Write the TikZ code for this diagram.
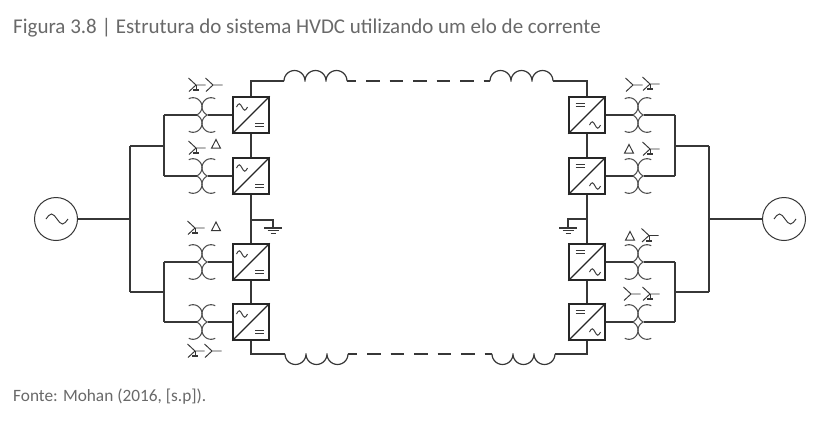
\documentclass[tikz,border=0pt]{standalone}
\usepackage{fontspec}
\setmainfont{Carlito}
\usetikzlibrary{calc}
\definecolor{ln}{RGB}{55,55,55}
\definecolor{lnl}{RGB}{80,80,80}
\definecolor{txt}{RGB}{105,105,105}
\newcommand{\tld}[4]{\draw[sym] (#1-#3,#2) sin (#1-#3/2,#2-#4) cos (#1,#2) sin (#1+#3/2,#2+#4) cos (#1+#3,#2);}
\newcommand{\eqs}[2]{\draw[sym, line width=1.1pt] (#1-4.5,#2-1.7) -- (#1+4.5,#2-1.7) (#1-4.5,#2+1.7) -- (#1+4.5,#2+1.7);}
\newcommand{\ystar}[2]{\draw[sym] (#1-7.5,#2-7) -- (#1,#2) -- (#1-7,#2+6.5) (#1,#2) -- (#1+9.5,#2);}
\newcommand{\gstar}[2]{\ystar{#1}{#2}\draw[sym] (#1,#2) -- (#1,#2+4); \fill[ln] (#1-3,#2+4) rectangle (#1+3,#2+6);}
\newcommand{\dlt}[2]{\draw[sym, line join=miter] (#1-4.5,#2+4.2) -- (#1+4.5,#2+4.2) -- (#1,#2-4.5) -- cycle;}
\newcommand{\xfmr}[3]{%
 \draw[arcs] plot[smooth, domain=-67:118, samples=25] ({#1-9+9*cos(\x)},{#2-8.29-9*sin(\x)});
 \draw[arcs] plot[smooth, domain=67:-118, samples=25] ({#1-9+9*cos(\x)},{#2+8.29-9*sin(\x)});
 \draw[arcs] plot[smooth, domain=62:247, samples=25] ({#1+9+9*cos(\x)},{#2-8.29-9*sin(\x)});
 \draw[arcs] plot[smooth, domain=113:298, samples=25] ({#1+9+9*cos(\x)},{#2+8.29-9*sin(\x)});
 \coordinate (#3-w) at (#1-5.5,#2);
 \coordinate (#3-e) at (#1+5.5,#2);}
\newcommand{\indup}[2]{%
 \draw[wire] plot[smooth, domain=180:0, samples=15] ({#1+10.5+10.5*cos(\x)},{#2-10.5*sin(\x)})
   -- plot[smooth, domain=180:0, samples=15] ({#1+31.5+10.5*cos(\x)},{#2-10.5*sin(\x)})
   -- plot[smooth, domain=180:0, samples=15] ({#1+52.5+10.5*cos(\x)},{#2-10.5*sin(\x)});}
\newcommand{\inddn}[2]{%
 \draw[wire] plot[smooth, domain=180:360, samples=15] ({#1+10.5+10.5*cos(\x)},{#2-10.5*sin(\x)})
   -- plot[smooth, domain=180:360, samples=15] ({#1+31.5+10.5*cos(\x)},{#2-10.5*sin(\x)})
   -- plot[smooth, domain=180:360, samples=15] ({#1+52.5+10.5*cos(\x)},{#2-10.5*sin(\x)});}
\newcommand{\gnd}[2]{%
 \draw[wire] (#1-9,#2) -- (#1+9,#2);
 \draw[wire] (#1-5.5,#2+2.8) -- (#1+5.5,#2+2.8);
 \draw[wire] (#1-2.5,#2+5.6) -- (#1+2.5,#2+5.6);}
\begin{document}
\begin{tikzpicture}[x=1pt,y=-1pt,
  wire/.style={draw=ln, line width=1.2pt},
  arcs/.style={draw=lnl, line width=1.05pt},
  sym/.style={draw=ln, line width=0.95pt},
  conv/.style={rectangle, draw=black!85, line width=1.4pt, minimum size=36pt, inner sep=0pt},
  src/.style={circle, draw=ln, line width=1pt, minimum size=43pt, inner sep=0pt},
  dcdash/.style={wire, dash pattern=on 13.5pt off 10pt, dash phase=4.4pt}]
\useasboundingbox (0,0) rectangle (830,432);
\fill[white] (0,0) rectangle (830,432);

% texts
\node[anchor=base west, inner sep=0pt, text=txt, font=\fontsize{21}{25}\selectfont] (title) at (13,33)
  {Figura 3.8 | Estrutura do sistema HVDC utilizando um elo de corrente};
\node[anchor=base west, inner sep=0pt, text=txt, font=\fontsize{17.3}{20}\selectfont] (fonte) at (13,401)
  {Fonte: Mohan (2016, [s.p]).};

% sources
\node[src] (S1) at (56,219) {};
\node[src] (S2) at (784,219) {};
\tld{57}{219}{11}{5}
\tld{785}{219}{11}{5}

% converters
\foreach \n/\yy in {1/115,2/176,3/262,4/322}{
  \node[conv] (L\n) at (251,\yy) {};
  \node[conv] (R\n) at (587,\yy) {};
  \draw[black!85, line width=1.15pt] (L\n.south west) -- (L\n.north east);
  \draw[black!85, line width=1.15pt] (R\n.south west) -- (R\n.north east);
  \tld{242}{\yy-8}{5.5}{3.2}
  \eqs{259.5}{\yy+10}
  \eqs{580}{\yy-10}
  \tld{595}{\yy+10}{5.5}{3.2}
}

% transformers
\xfmr{202}{115}{TL1} \xfmr{202}{176}{TL2} \xfmr{202}{262}{TL3} \xfmr{202}{322}{TL4}
\xfmr{638}{115}{TR1} \xfmr{638}{176}{TR2} \xfmr{638}{262}{TR3} \xfmr{638}{322}{TR4}

% winding symbols left
\gstar{196}{85} \ystar{213}{85}
\gstar{196}{148} \dlt{216}{144}
\gstar{195}{228} \dlt{216}{226.5}
\gstar{195}{351} \ystar{212}{351}
% winding symbols right
\ystar{633}{85} \gstar{650}{84}
\dlt{629}{149} \gstar{650}{149}
\dlt{630}{236} \gstar{649}{235.5}
\ystar{631}{294} \gstar{650}{294}

% left AC bus
\coordinate (jc) at (130,219);
\coordinate (ja) at (130,146);
\coordinate (jb) at (130,292);
\coordinate (ka) at (164,146);
\coordinate (kb) at (164,292);
\coordinate (ka1) at (164,115);
\coordinate (ka2) at (164,176);
\coordinate (kb1) at (164,262);
\coordinate (kb2) at (164,322);
\draw[wire] (S1.east) -- (jc);
\draw[wire] (ja) -- (jb);
\draw[wire] (ja) -- (ka);
\draw[wire] (jb) -- (kb);
\draw[wire] (ka1) -- (ka2);
\draw[wire] (kb1) -- (kb2);
\draw[wire] (ka1) -- (TL1-w); \draw[wire] (TL1-e) -- (L1.west);
\draw[wire] (ka2) -- (TL2-w); \draw[wire] (TL2-e) -- (L2.west);
\draw[wire] (kb1) -- (TL3-w); \draw[wire] (TL3-e) -- (L3.west);
\draw[wire] (kb2) -- (TL4-w); \draw[wire] (TL4-e) -- (L4.west);

% right AC bus
\coordinate (mc) at (709,219);
\coordinate (ma) at (709,146);
\coordinate (mb) at (709,292);
\coordinate (na) at (675,146);
\coordinate (nb) at (675,292);
\coordinate (na1) at (675,115);
\coordinate (na2) at (675,176);
\coordinate (nb1) at (675,262);
\coordinate (nb2) at (675,322);
\draw[wire] (S2.west) -- (mc);
\draw[wire] (ma) -- (mb);
\draw[wire] (ma) -- (na);
\draw[wire] (mb) -- (nb);
\draw[wire] (na1) -- (na2);
\draw[wire] (nb1) -- (nb2);
\draw[wire] (R1.east) -- (TR1-w); \draw[wire] (TR1-e) -- (na1);
\draw[wire] (R2.east) -- (TR2-w); \draw[wire] (TR2-e) -- (na2);
\draw[wire] (R3.east) -- (TR3-w); \draw[wire] (TR3-e) -- (nb1);
\draw[wire] (R4.east) -- (TR4-w); \draw[wire] (TR4-e) -- (nb2);

% DC side
\draw[wire] (L1.south) -- (L2.north);
\draw[wire] (L2.south) -- (L3.north);
\draw[wire] (L3.south) -- (L4.north);
\draw[wire] (R1.south) -- (R2.north);
\draw[wire] (R2.south) -- (R3.north);
\draw[wire] (R3.south) -- (R4.north);

% top pole
\coordinate (tl) at (251,81);
\coordinate (ti1) at (284,81);
\coordinate (to1) at (347,81);
\coordinate (ti2) at (490,81);
\coordinate (to2) at (553,81);
\coordinate (tr) at (587,81);
\draw[wire] (L1.north) -- (tl) -- (ti1);
\indup{284}{81}
\draw[dcdash] (to1) -- (ti2);
\indup{490}{81}
\draw[wire] (to2) -- (tr) -- (R1.north);

% bottom pole
\coordinate (bl) at (251,354);
\coordinate (bi1) at (285,354);
\coordinate (bo1) at (348,354);
\coordinate (bi2) at (492,354);
\coordinate (bo2) at (555,354);
\coordinate (br) at (587,354);
\draw[wire] (L4.south) -- (bl) -- (bi1);
\inddn{285}{354}
\draw[dcdash] (bo1) -- (bi2);
\inddn{492}{354}
\draw[wire] (bo2) -- (br) -- (R4.south);

% grounds
\coordinate (gl) at (251,220);
\coordinate (gl2) at (273,220);
\coordinate (gl3) at (273,228);
\draw[wire] (gl) -- (gl2) -- (gl3);
\gnd{273}{228}
\coordinate (gr) at (587,219);
\coordinate (gr2) at (568,219);
\coordinate (gr3) at (568,228);
\draw[wire] (gr) -- (gr2) -- (gr3);
\gnd{568}{228}
\end{tikzpicture}
\end{document}
